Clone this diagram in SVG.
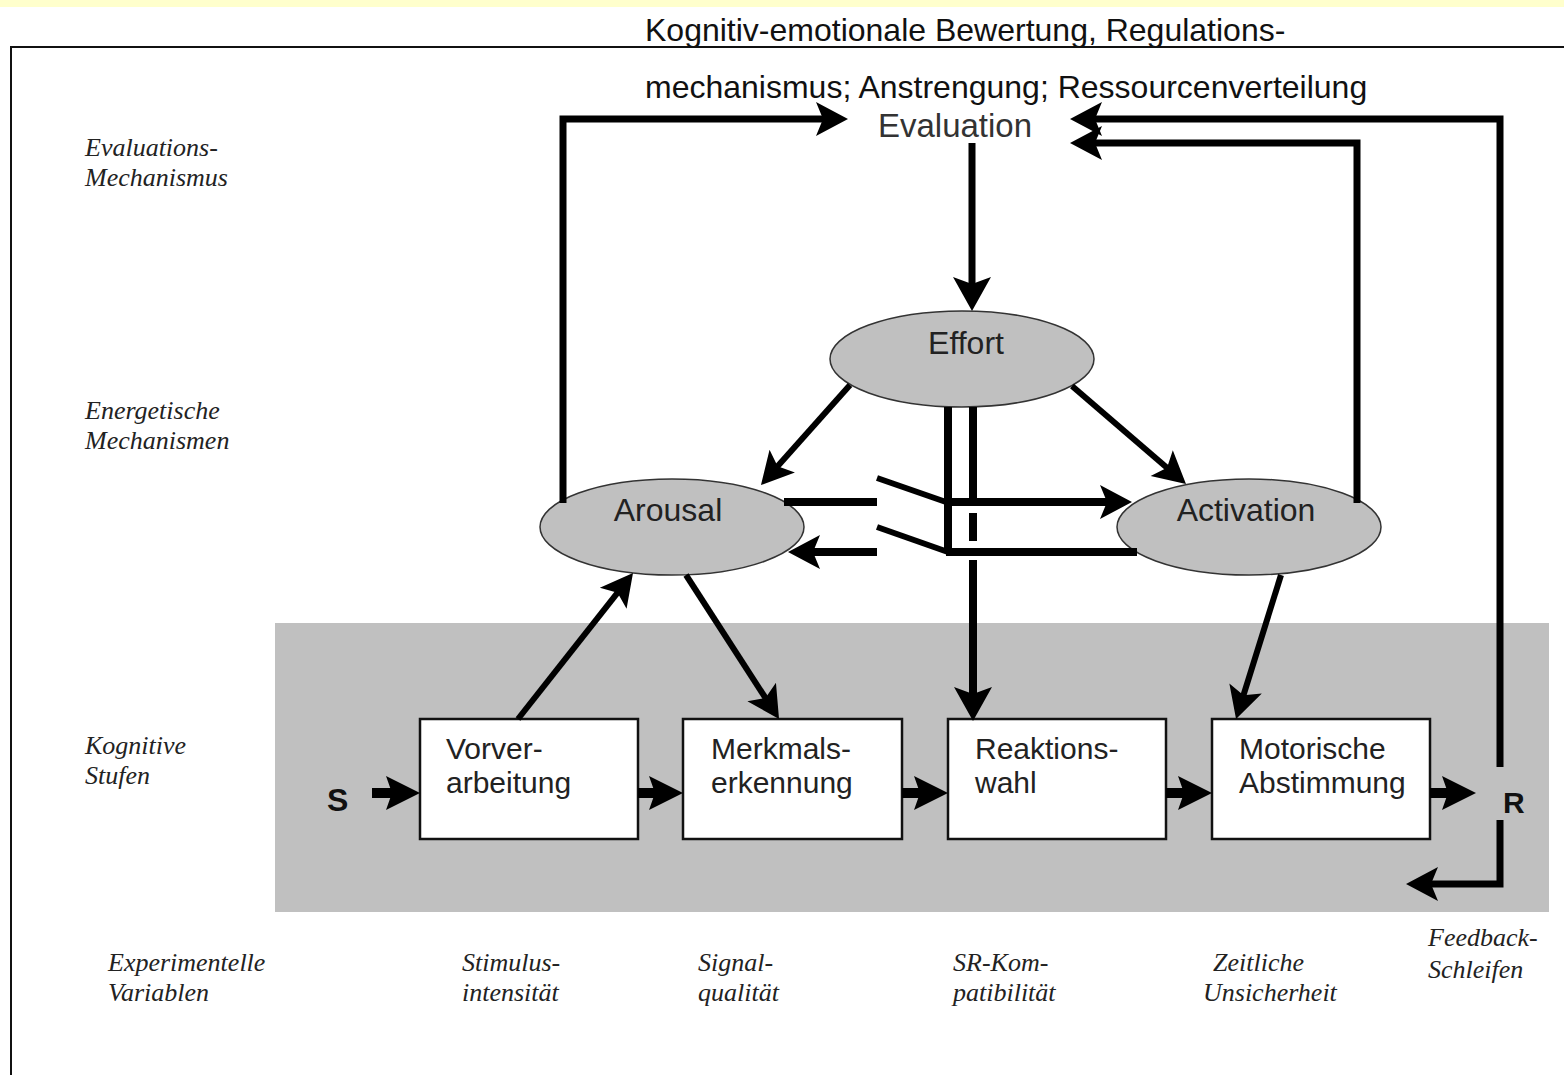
<svg xmlns="http://www.w3.org/2000/svg" width="1564" height="1075" viewBox="0 0 1564 1075">
<style>
.sans{font-family:"Liberation Sans",Arial,sans-serif;}
.lab{font-family:"Liberation Serif","Times New Roman",serif;font-style:italic;font-size:26px;fill:#222;}
.box{fill:#fff;stroke:#111;stroke-width:2.5;}
.ell{fill:#c0c0c0;stroke:#333;stroke-width:1.5;}
.bt{font-size:30px;fill:#222;}
.et{font-size:32px;fill:#222;}
.ln{fill:none;stroke:#000;stroke-width:7;}
.ln8{fill:none;stroke:#000;stroke-width:8;}
.ln6{fill:none;stroke:#000;stroke-width:6;}
.ln5{fill:none;stroke:#000;stroke-width:5;}
.ln10{fill:none;stroke:#000;stroke-width:10;}
</style>
<defs>
<marker id="ah" markerUnits="userSpaceOnUse" markerWidth="32" markerHeight="34" refX="10" refY="17" orient="auto" overflow="visible">
<path d="M0,0 L32,17 L0,34 L7,17 z" fill="#000"/>
</marker>
<marker id="ahb" markerUnits="userSpaceOnUse" markerWidth="34" markerHeight="38" refX="10" refY="19" orient="auto" overflow="visible">
<path d="M0,0 L34,19 L0,38 L7,19 z" fill="#000"/>
</marker>
<marker id="ahs" markerUnits="userSpaceOnUse" markerWidth="34" markerHeight="34" refX="10" refY="17" orient="auto" overflow="visible">
<path d="M0,0 L34,17 L0,34 L6,17 z" fill="#000"/>
</marker>
</defs>
<rect x="0" y="0" width="1564" height="1075" fill="#fff"/>
<rect x="0" y="0" width="1564" height="7" fill="#ffffcc"/>
<rect x="11" y="47" width="1600" height="1100" fill="none" stroke="#111" stroke-width="2"/>
<rect x="275" y="623" width="1274" height="289" fill="#c0c0c0"/>

<g id="title">
<text class="sans" x="645" y="41" font-size="32" fill="#111">Kognitiv-emotionale Bewertung, Regulations-</text>
<text class="sans" x="645" y="98" font-size="32" fill="#111">mechanismus; Anstrengung; Ressourcenverteilung</text>
</g>

<g id="side-labels">
<text class="lab" x="85" y="156">Evaluations-</text>
<text class="lab" x="85" y="186">Mechanismus</text>
<text class="lab" x="85" y="419">Energetische</text>
<text class="lab" x="85" y="449">Mechanismen</text>
<text class="lab" x="85" y="754">Kognitive</text>
<text class="lab" x="85" y="784">Stufen</text>
<text class="lab" x="108" y="971">Experimentelle</text>
<text class="lab" x="108" y="1001">Variablen</text>
</g>

<g id="variables">
<text class="lab" x="462" y="971">Stimulus-</text>
<text class="lab" x="462" y="1001">intensität</text>
<text class="lab" x="698" y="971">Signal-</text>
<text class="lab" x="698" y="1001">qualität</text>
<text class="lab" x="953" y="971">SR-Kom-</text>
<text class="lab" x="953" y="1001">patibilität</text>
<text class="lab" x="1213" y="971">Zeitliche</text>
<text class="lab" x="1203" y="1001">Unsicherheit</text>
<text class="lab" x="1428" y="946" font-size="28">Feedback-</text>
<text class="lab" x="1428" y="978" font-size="28">Schleifen</text>
</g>

<g id="evaluation">
<text class="sans" x="955" y="137" font-size="33" fill="#333" text-anchor="middle">Evaluation</text>
</g>

<g id="effort">
<ellipse class="ell" cx="962" cy="359" rx="132" ry="48"/>
<text class="sans et" x="966" y="354" text-anchor="middle">Effort</text>
</g>
<g id="arousal">
<ellipse class="ell" cx="672" cy="527" rx="132" ry="48"/>
<text class="sans et" x="668" y="521" text-anchor="middle">Arousal</text>
</g>
<g id="activation">
<ellipse class="ell" cx="1249" cy="527" rx="132" ry="48"/>
<text class="sans et" x="1246" y="521" text-anchor="middle">Activation</text>
</g>

<g id="vorverarbeitung">
<rect class="box" x="420" y="719" width="218" height="120"/>
<text class="sans bt" x="446" y="759">Vorver-</text>
<text class="sans bt" x="446" y="793">arbeitung</text>
</g>
<g id="merkmalserkennung">
<rect class="box" x="683" y="719" width="219" height="120"/>
<text class="sans bt" x="711" y="759">Merkmals-</text>
<text class="sans bt" x="711" y="793">erkennung</text>
</g>
<g id="reaktionswahl">
<rect class="box" x="948" y="719" width="218" height="120"/>
<text class="sans bt" x="975" y="759">Reaktions-</text>
<text class="sans bt" x="975" y="793">wahl</text>
</g>
<g id="motorische">
<rect class="box" x="1212" y="719" width="218" height="120"/>
<text class="sans bt" x="1239" y="759">Motorische</text>
<text class="sans bt" x="1239" y="793">Abstimmung</text>
</g>

<g id="s-node"><text class="sans" x="327" y="811" font-size="32" font-weight="bold" fill="#111">S</text></g>
<g id="r-node"><text class="sans" x="1503" y="813" font-size="30" font-weight="bold" fill="#111">R</text></g>

<g id="connectors">
<path class="ln" d="M563,503 L563,119 L826,119" marker-end="url(#ah)"/>
<path class="ln" d="M1500,767 L1500,119 L1092,119" marker-end="url(#ah)"/>
<path class="ln" d="M1357,503 L1357,143 L1092,143" marker-end="url(#ah)"/>
<path class="ln" d="M972,143 L972,287" marker-end="url(#ahb)"/>
<path class="ln6" d="M850,385 L775.6,468.6" marker-end="url(#ah)"/>
<path class="ln6" d="M1072,386 L1169.3,469.7" marker-end="url(#ah)"/>
<path class="ln8" d="M948,407 L948,552"/>
<path class="ln8" d="M973,407 L973,502"/>
<path class="ln8" d="M973,513 L973,541"/>
<path class="ln8" d="M973,560 L973,697" marker-end="url(#ahb)"/>
<path class="ln8" d="M784,502 L877,502"/>
<path class="ln6" d="M877,478 L946,502"/>
<path class="ln8" d="M944,502 L1110,502" marker-end="url(#ah)"/>
<path class="ln8" d="M1137,552 L946,552"/>
<path class="ln6" d="M948,552 L877,527"/>
<path class="ln8" d="M877,552 L810,552" marker-end="url(#ah)"/>
<path class="ln6" d="M518,719 L619.4,590.3" marker-end="url(#ah)"/>
<path class="ln6" d="M686,575 L767.1,700.5" marker-end="url(#ah)"/>
<path class="ln6" d="M1281,575 L1242.6,698" marker-end="url(#ah)"/>
<path class="ln10" d="M372,793 L396,793" marker-end="url(#ahs)"/>
<path class="ln10" d="M638,793 L659,793" marker-end="url(#ahs)"/>
<path class="ln10" d="M902,793 L924,793" marker-end="url(#ahs)"/>
<path class="ln10" d="M1166,793 L1188,793" marker-end="url(#ahs)"/>
<path class="ln10" d="M1430,793 L1452,793" marker-end="url(#ahs)"/>
<path class="ln" d="M1500,820 L1500,884 L1428,884" marker-end="url(#ah)"/>
</g>
</svg>
